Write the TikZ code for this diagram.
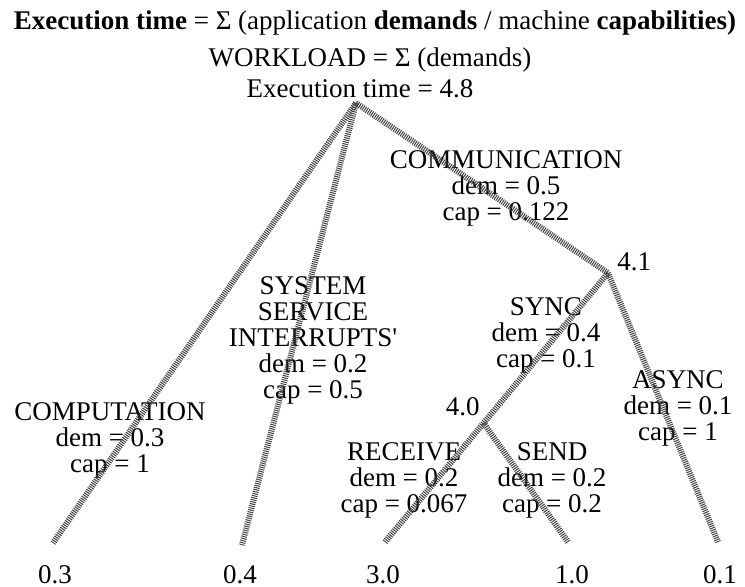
\documentclass[tikz,border=0pt]{standalone}
\usepackage{fontspec}
\setmainfont{Liberation Serif}
\usetikzlibrary{calc}

\begin{document}
\begin{tikzpicture}[x=0.5pt,y=-0.5pt,
  every node/.style={font=\fontsize{13.5}{13}\selectfont,inner sep=0pt},
  lbl/.style={align=center},
  val/.style={anchor=base},
  br/.style={draw=black!75,line width=3pt,dash pattern=on 0.5pt off 0.55pt}]
\useasboundingbox (0,0) rectangle (745,586);
% heading
\node[anchor=base] (title) at (375,29)
  {\textbf{Execution time} = Σ (application \textbf{demands} / machine \textbf{capabilities)}};
\node[anchor=base] (wl) at (370,66) {WORKLOAD = Σ (demands)};
\node[anchor=base] (et) at (360,97) {Execution time = 4.8};
% branch labels
\node[lbl] (comp) at (110,440) {COMPUTATION\\dem = 0.3\\cap = 1};
\node[lbl] (sys) at (313,340) {SYSTEM\\SERVICE\\INTERRUPTS\textquotesingle\\dem = 0.2\\cap = 0.5};
\node[lbl] (comm) at (506,188) {COMMUNICATION\\dem = 0.5\\cap = 0.122};
\node[lbl] (sync) at (546,335) {SYNC\\dem = 0.4\\cap = 0.1};
\node[lbl] (async) at (678,408) {ASYNC\\dem = 0.1\\cap = 1};
\node[lbl] (recv) at (404,480) {RECEIVE\\dem = 0.2\\cap = 0.067};
\node[lbl] (send) at (552,480) {SEND\\dem = 0.2\\cap = 0.2};
% tree
\coordinate (top) at (356,103);
\coordinate (j41) at (608,273);
\coordinate (lcomp) at (53,543);
\coordinate (lsys) at (242,545);
\coordinate (lrecv) at (385,542);
\coordinate (lsend) at (568,542);
\coordinate (lasync) at (718,542);
\coordinate (j40) at ($(j41)!0.558!(lrecv)$);
\node[anchor=base west] (t41) at (617,270) {4.1};
\node[anchor=base east] (t40) at (480,415) {4.0};
\draw[br] (top) -- (lcomp);
\draw[br] (top) -- (lsys);
\draw[br] (top) -- (j41);
\draw[br] (j41) -- (lrecv);
\draw[br] (j41) -- (lasync);
\draw[br] (j40) -- (lsend);
% leaf times
\node[val] (v1) at (55,583) {0.3};
\node[val] (v2) at (240,583) {0.4};
\node[val] (v3) at (383,583) {3.0};
\node[val] (v4) at (572,583) {1.0};
\node[val] (v5) at (720,583) {0.1};
\end{tikzpicture}
\end{document}
